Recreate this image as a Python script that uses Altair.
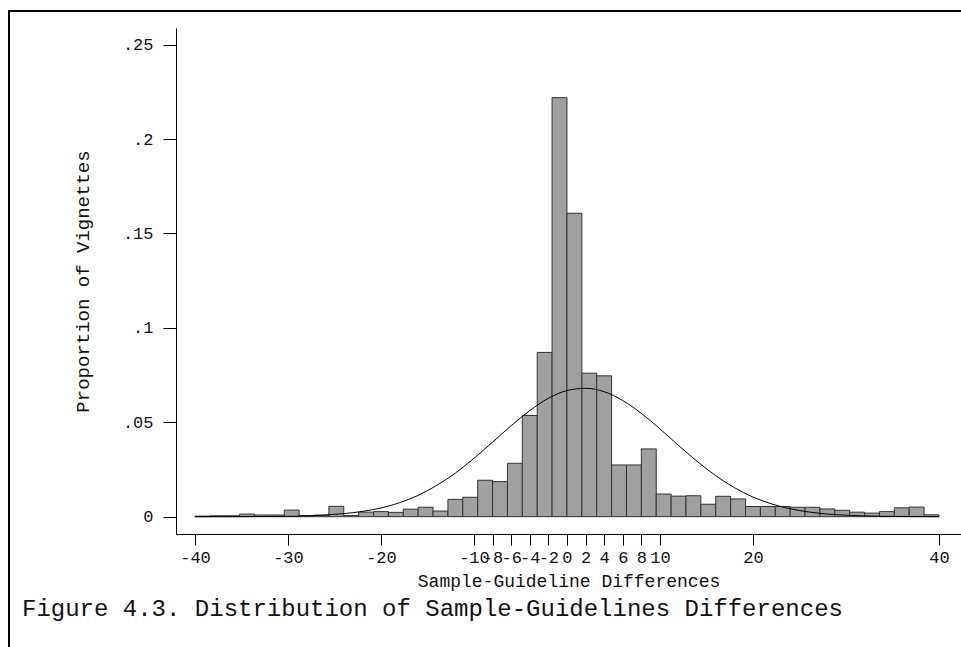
import altair as alt
import pandas as pd

# ---- data ----
bin_start = -40.0
bin_width = 1.6
proportions = [
    0.0003, 0.0005, 0.0005, 0.0014, 0.0009, 0.0009, 0.0035, 0.0006, 0.0008, 0.0055,
    0.0006, 0.0024, 0.0027, 0.0023, 0.0040, 0.0050, 0.0030, 0.0092, 0.0103, 0.0193,
    0.0186, 0.0283, 0.0536, 0.0870, 0.2219, 0.1607, 0.0760, 0.0746, 0.0274, 0.0274,
    0.0359, 0.0120, 0.0109, 0.0111, 0.0066, 0.0108, 0.0094, 0.0054, 0.0054, 0.0054,
    0.0050, 0.0050, 0.0041, 0.0034, 0.0024, 0.0019, 0.0027, 0.0047, 0.0051, 0.0010,
]
curve_x = [-40, -35, -30, -26, -22, -20, -18, -16, -14, -12, -10, -8, -6, -4, -2, 0,
           2, 4, 6, 8, 10, 12, 14, 16, 18, 20, 22, 24, 26, 28, 30, 34, 40]
curve_y = [0.0000, 0.00003, 0.0002, 0.0009, 0.0028, 0.0046, 0.0074, 0.0113, 0.0166,
           0.0231, 0.0309, 0.0395, 0.0482, 0.0562, 0.0627, 0.0668, 0.0680, 0.0662,
           0.0615, 0.0547, 0.0465, 0.0377, 0.0293, 0.0217, 0.0154, 0.0104, 0.0068,
           0.0042, 0.0025, 0.0014, 0.0008, 0.0002, 0.0000]
x_ticks = [-40, -30, -20, -10, -8, -6, -4, -2, 0, 2, 4, 6, 8, 10, 20, 40]
y_ticks = [0, 0.05, 0.1, 0.15, 0.2, 0.25]
y_tick_labels = ["0", ".05", ".1", ".15", ".2", ".25"]

x_title = "Sample-Guideline Differences"
y_title = "Proportion of Vignettes"
caption = "Figure 4.3. Distribution of Sample-Guidelines Differences"

# ---- tables ----
bars = pd.DataFrame({
    "x0": [bin_start + bin_width * i for i in range(len(proportions))],
    "x1": [bin_start + bin_width * (i + 1) for i in range(len(proportions))],
    "p": proportions,
})
curve = pd.DataFrame({"x": curve_x, "y": curve_y})

FONT = "Liberation Mono"
W, H = 785, 506
PAD_L, PAD_T = 176, 28

x_scale = alt.Scale(domain=[-42.04, 42.37], nice=False, zero=False)
y_scale = alt.Scale(domain=[-0.00916, 0.2588], nice=False, zero=False)

y_label_expr = " : ".join(
    [f"datum.value == {v} ? '{l}'" for v, l in zip(y_ticks, y_tick_labels)] + ["''"]
)

hist = alt.Chart(bars).mark_rect(
    fill="#a0a0a0", stroke="#333333", strokeWidth=1
).encode(
    x=alt.X("x0:Q", scale=x_scale, axis=alt.Axis(
        values=x_ticks, title=x_title, labelExpr="'' + datum.value",
        labelOverlap=False, grid=False, tickSize=11, labelPadding=4,
        titlePadding=7, domainColor="black", tickColor="black",
        labelFont=FONT, labelFontSize=17, labelColor="#111111",
        titleFont=FONT, titleFontSize=18, titleFontWeight="normal", titleColor="#111111",
        labelFlush=False)),
    x2="x1:Q",
    y=alt.Y("p:Q", scale=y_scale, axis=alt.Axis(
        values=y_ticks, title=y_title, labelExpr=y_label_expr,
        grid=False, tickSize=13, labelPadding=10, titlePadding=30,
        domainColor="black", tickColor="black",
        labelFont=FONT, labelFontSize=17, labelColor="#111111",
        titleFont=FONT, titleFontSize=19, titleFontWeight="normal", titleColor="#111111",
        labelFlush=False)),
    y2=alt.Y2(datum=0),
)

line = alt.Chart(curve).mark_line(
    color="black", strokeWidth=1, interpolate="monotone"
).encode(x=alt.X("x:Q", scale=x_scale), y=alt.Y("y:Q", scale=y_scale))

frame_df = pd.DataFrame({"k": [0]})
frame_left = alt.Chart(frame_df).mark_rule(color="black", strokeWidth=2).encode(
    x=alt.value(9 - PAD_L), y=alt.value(10 - PAD_T), y2=alt.value(647 - PAD_T)
)
frame_top = alt.Chart(frame_df).mark_rule(color="black", strokeWidth=2).encode(
    x=alt.value(8 - PAD_L), x2=alt.value(961 - PAD_L), y=alt.value(11 - PAD_T)
)

cap = alt.Chart(pd.DataFrame({"t": [caption]})).mark_text(
    font=FONT, fontSize=24, align="left", baseline="alphabetic", color="#111111"
).encode(text="t:N", x=alt.value(22 - PAD_L), y=alt.value(616 - PAD_T))

chart = alt.layer(hist, line, frame_left, frame_top, cap).properties(
    width=W, height=H,
    autosize=alt.AutoSizeParams(type="none"),
    padding={"left": PAD_L, "top": PAD_T, "right": 0, "bottom": 647 - PAD_T - H},
    background="white",
).configure_view(stroke=None)

chart.save("out.html", embed_options={"renderer": "svg", "actions": False})
